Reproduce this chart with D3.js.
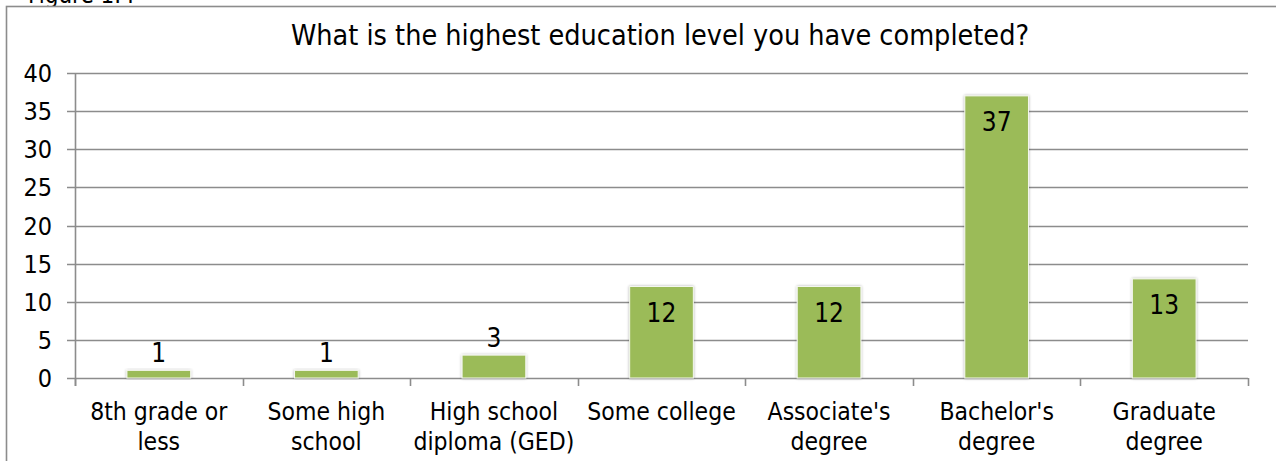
<!DOCTYPE html>
<html><head><meta charset="utf-8">
<script src="https://cdn.jsdelivr.net/npm/d3@7"></script>
<style>body{margin:0;background:#fff}svg{display:block}text{font-family:"DejaVu Sans Condensed","DejaVu Sans",sans-serif;fill:#000}</style>
</head><body><svg id="c" width="1276" height="461"></svg>
<script>
const categories = [["8th grade or","less"],["Some high","school"],["High school","diploma (GED)"],["Some college"],["Associate's","degree"],["Bachelor's","degree"],["Graduate","degree"]];
const values = [1,1,3,12,12,37,13];
const yTicks = [0,5,10,15,20,25,30,35,40];
const title = "What is the highest education level you have completed?";

const svg = d3.select("#c");
const m={l:75,r:1248,t:73,b:378};
// frame
svg.append("text").attr("x",28).attr("y",3).attr("font-size",24).text("Figure 1.4");
svg.append("rect").attr("x",6.5).attr("y",6.5).attr("width",1300).attr("height",500).attr("fill","#fff").attr("stroke","#8c8c8c").attr("stroke-width",1.6);

const x = d3.scaleBand().domain(d3.range(values.length)).range([m.l,m.r]).paddingInner(0.62).paddingOuter(0.31);
const xb = d3.scaleBand().domain(d3.range(values.length)).range([m.l,m.r]);
const y = d3.scaleLinear().domain([0,40]).range([m.b,m.t]);

svg.append("text").attr("x",660).attr("y",45).attr("text-anchor","middle").attr("font-size",28.5).text(title);

// gridlines
svg.append("g").selectAll("line").data(yTicks).join("line")
 .attr("x1",m.l-8).attr("x2",m.r).attr("y1",d=>Math.round(y(d))+0.5).attr("y2",d=>Math.round(y(d))+0.5)
 .attr("stroke","#8c8c8c").attr("stroke-width",1.6);
// y axis line
svg.append("line").attr("x1",m.l+0.5).attr("x2",m.l+0.5).attr("y1",m.t).attr("y2",m.b+8).attr("stroke","#8c8c8c").attr("stroke-width",1.6);
// x ticks
svg.append("g").selectAll("line").data(d3.range(values.length+1)).join("line")
 .attr("x1",d=>Math.round(m.l+d*xb.step())+0.5).attr("x2",d=>Math.round(m.l+d*xb.step())+0.5)
 .attr("y1",m.b).attr("y2",m.b+8).attr("stroke","#8c8c8c").attr("stroke-width",1.6);
// y labels
svg.append("g").selectAll("text").data(yTicks).join("text")
 .attr("x",52).attr("y",d=>y(d)+9).attr("text-anchor","end").attr("font-size",25).text(d=>d);

// shadow filter
const defs=svg.append("defs");
const f=defs.append("filter").attr("id","sh").attr("x","-20%").attr("y","-20%").attr("width","140%").attr("height","140%");
f.append("feGaussianBlur").attr("in","SourceAlpha").attr("stdDeviation",1.5).attr("result","b");
f.append("feComponentTransfer").append("feFuncA").attr("type","linear").attr("slope",0.3);
const fm=f.append("feMerge"); fm.append("feMergeNode"); fm.append("feMergeNode").attr("in","SourceGraphic");

svg.append("g").selectAll("rect").data(values).join("rect")
 .attr("x",(d,i)=>x(i)).attr("width",x.bandwidth()).attr("y",d=>y(d)).attr("height",d=>y(0)-y(d))
 .attr("fill","#9bbb59").attr("stroke","#f4f7ee").attr("stroke-width",1).attr("filter","url(#sh)");

svg.append("g").selectAll("text").data(values).join("text")
 .attr("x",(d,i)=>x(i)+x.bandwidth()/2)
 .attr("y",d=>(y(0)-y(d))>30 ? y(d)+35 : y(d)-8)
 .attr("text-anchor","middle").attr("font-size",26).text(d=>d);

// x labels
const xl=svg.append("g").selectAll("text").data(categories).join("text")
 .attr("text-anchor","middle").attr("font-size",24.5);
xl.each(function(lines,i){
  const t=d3.select(this);
  lines.forEach((s,j)=>t.append("tspan").attr("x",xb(i)+xb.bandwidth()/2).attr("y",420+j*30).text(s));
});
</script></body></html>
